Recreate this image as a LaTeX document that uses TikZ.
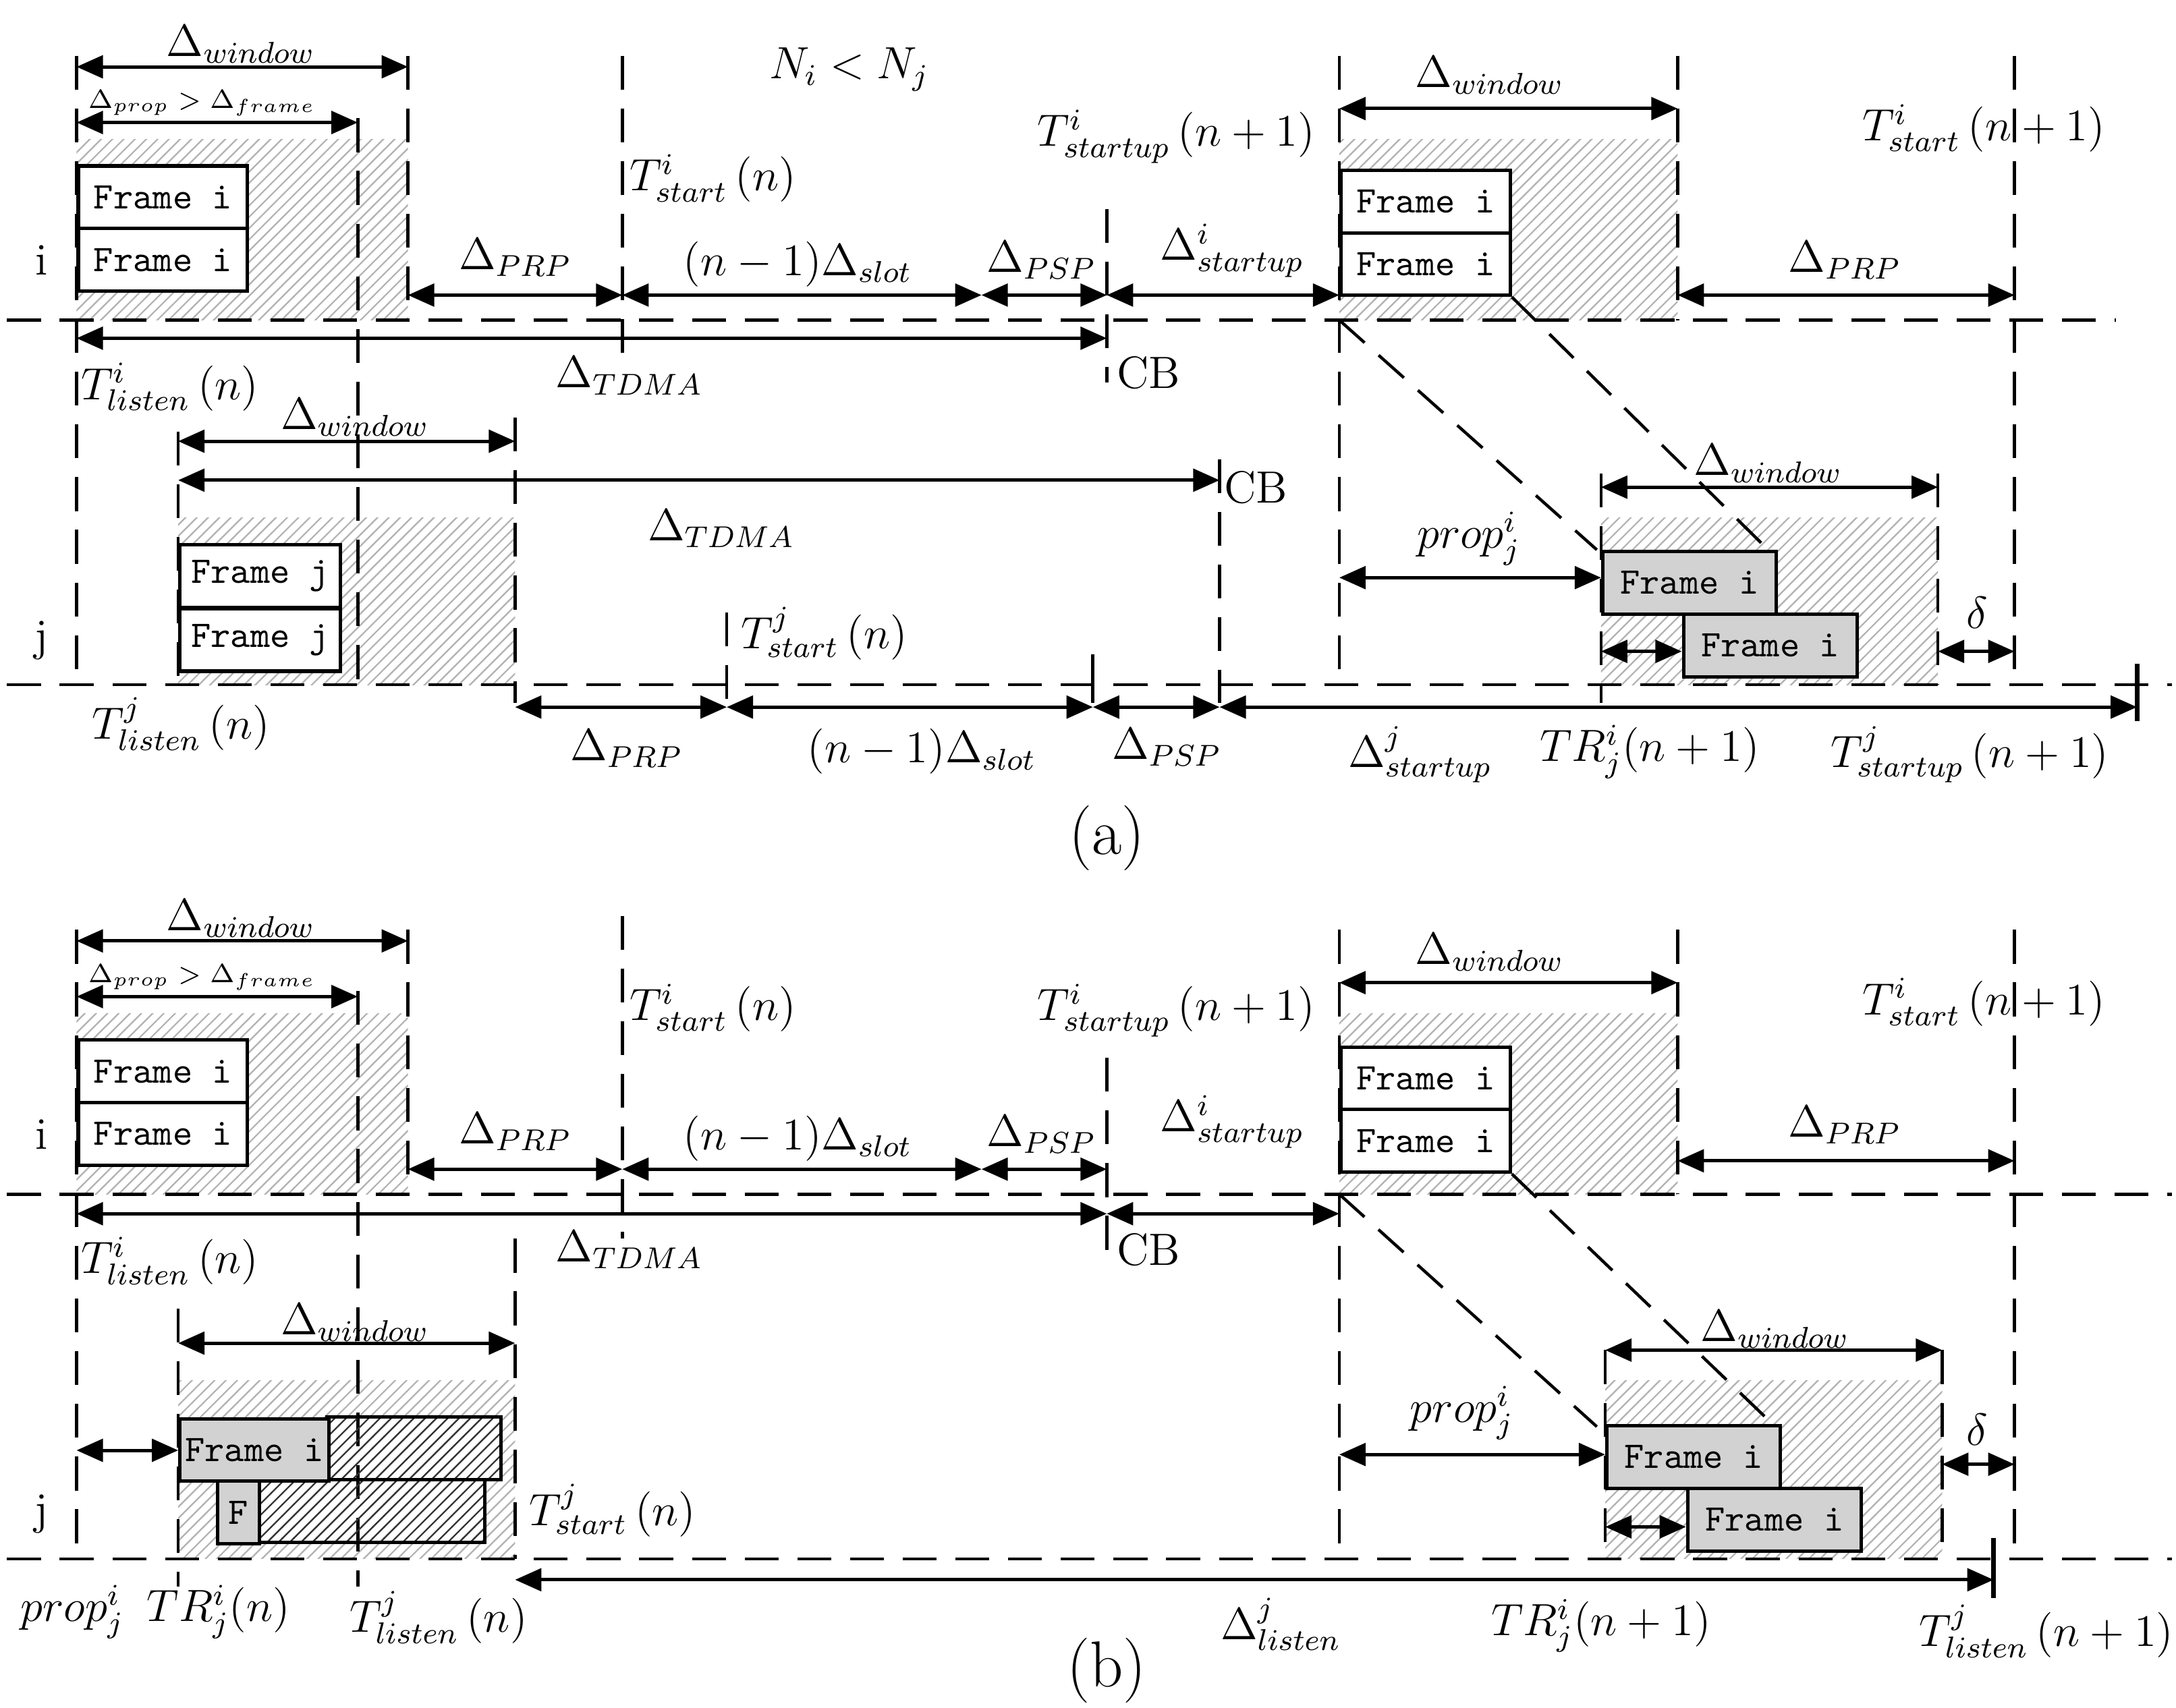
\documentclass[tikz,border=0pt]{standalone}
\usetikzlibrary{arrows.meta,patterns}
\begin{document}
\begin{tikzpicture}[x=0.013cm,y=-0.013cm,
  dl/.style={dashed,dash pattern=on 9pt off 5pt,line width=0.8pt},
  dim/.style={{Triangle[length=7pt,width=6pt]}-{Triangle[length=7pt,width=6pt]},line width=0.9pt},
  hatch/.style={pattern={north east lines},pattern color=gray!60},
  fr/.style={draw,line width=0.9pt,fill=white,font=\ttfamily,anchor=north west,inner sep=0,minimum width=1.58cm,minimum height=0.585cm},
  gfr/.style={fr,fill=gray!35},
  lb/.style={font=\large},
  sm/.style={font=\scriptsize}]
\useasboundingbox (0,0) rectangle (1563,1227);

%================ panel (a) ================
\fill[hatch] (55,100) rectangle (293,230);
\fill[hatch] (962,100) rectangle (1205,230);
\fill[hatch] (128,372) rectangle (370,492);
\fill[hatch] (1150,372) rectangle (1392,492);
% axes
\draw[dl] (5,230) -- (1520,230);
\draw[dl] (5,492) -- (1560,492);
\draw[line width=1.2pt] (1535,477) -- (1535,518);
% verticals
\foreach \x/\a/\b in {55/40/492,293/40/230,257/85/492,447/40/260,795/150/275,962/40/492,1205/40/230,1447/40/492,
  128/310/492,370/300/505,522/440/505,876/330/505,1150/340/505,1392/340/492}
  \draw[dl] (\x,\a) -- (\x,\b);
\draw[line width=0.8pt] (785,470) -- (785,505);
% frames
\node[fr] (fa1) at (55,118) {Frame i};
\node[fr] (fa2) at (55,163) {Frame i};
\node[fr] (fa3) at (962,121) {Frame i};
\node[fr] (fa4) at (962,166) {Frame i};
\node[fr,minimum width=1.5cm] (fa5) at (128,390) {Frame j};
\node[fr,minimum width=1.5cm] (fa6) at (128,436) {Frame j};
\draw[dl] (962,230) -- (1147,395);
\draw[dl] (fa4.south east) -- (1265,390);
\node[gfr,minimum width=1.62cm] (fa7) at (1150,395) {Frame i};
\node[gfr,minimum width=1.62cm] (fa8) at (1208,440) {Frame i};
% labels i
\node[lb] (ia) at (30,187) {i};
\node[lb] (ja) at (30,460) {j};
\draw[dim] (55,48) -- (293,48);   \node[lb] (wa1) at (173,32) {$\Delta_{window}$};
\draw[dim] (55,88) -- (257,88);   \node[sm] (pa1) at (145,74) {$\Delta_{prop}>\Delta_{frame}$};
\draw[dim] (293,212) -- (447,212); \node[lb] (ra1) at (370,185) {$\Delta_{PRP}$};
\draw[dim] (447,212) -- (705,212); \node[lb] (sa1) at (573,190) {$(n-1)\Delta_{slot}$};
\draw[dim] (705,212) -- (795,212); \node[lb] (qa1) at (748,187) {$\Delta_{PSP}$};
\draw[dim] (795,212) -- (962,212); \node[lb] (ua1) at (885,180) {$\Delta^{i}_{startup}$};
\node[lb] (na) at (610,50) {$N_i<N_j$};
\node[lb] (tsa) at (512,128) {$T^{i}_{start}\,(n)$};
\node[lb] (tua) at (845,98) {$T^{i}_{startup}\,(n+1)$};
\draw[dim] (55,243) -- (795,243); \node[lb] (da1) at (452,270) {$\Delta_{TDMA}$};
\node[lb] (cba1) at (825,268) {CB};
\node[lb] (tla) at (122,278) {$T^{i}_{listen}\,(n)$};
\draw[dim] (962,78) -- (1205,78); \node[lb] (wa2) at (1070,54) {$\Delta_{window}$};
\node[lb] (tsa2) at (1425,92) {$T^{i}_{start}\,(n+1)$};
\draw[dim] (1205,212) -- (1447,212); \node[lb] (ra2) at (1325,187) {$\Delta_{PRP}$};
% j part
\draw[dim] (128,317) -- (370,317); \node[lb] (wa3) at (255,300) {$\Delta_{window}$};
\draw[dim] (128,345) -- (876,345); \node[lb] (da2) at (518,380) {$\Delta_{TDMA}$};
\node[lb] (cba2) at (902,350) {CB};
\node[lb] (tsja) at (592,455) {$T^{j}_{start}\,(n)$};
\node[lb] (tlja) at (130,520) {$T^{j}_{listen}\,(n)$};
\draw[dim] (370,508) -- (522,508); \node[lb] (ra3) at (450,538) {$\Delta_{PRP}$};
\draw[dim] (522,508) -- (785,508); \node[lb] (sa2) at (662,540) {$(n-1)\Delta_{slot}$};
\draw[dim] (785,508) -- (876,508); \node[lb] (qa2) at (838,537) {$\Delta_{PSP}$};
\draw[dim] (876,508) -- (1535,508);
\node[lb] (ua2) at (1020,542) {$\Delta^{j}_{startup}$};
\node[lb] (tra) at (1185,540) {$TR^{i}_{j}(n+1)$};
\node[lb] (tuja) at (1415,542) {$T^{j}_{startup}\,(n+1)$};
\draw[dim] (1150,350) -- (1392,350); \node[lb] (wa4) at (1270,333) {$\Delta_{window}$};
\draw[dim] (962,415) -- (1150,415); \node[lb] (pra) at (1055,387) {$prop^{i}_{j}$};
\draw[dim] (1150,468) -- (1208,468);
\draw[dim] (1392,468) -- (1447,468); \node[lb] (dea) at (1420,440) {$\delta$};
\node[font=\LARGE] (capa) at (795,602) {(a)};

%================ panel (b) ================
\fill[hatch] (55,728) rectangle (293,858);
\fill[hatch] (962,728) rectangle (1205,858);
\fill[hatch] (128,992) rectangle (370,1120);
\fill[hatch] (1153,992) rectangle (1395,1120);
\draw[dl] (5,858) -- (1560,858);
\draw[dl] (5,1120) -- (1560,1120);
\draw[line width=1.2pt] (1432,1105) -- (1432,1148);
\foreach \x/\a/\b in {55/668/1120,293/668/858,257/712/1140,447/658/890,795/760/905,962/668/1120,1205/668/858,1447/668/1120,
  128/940/1140,370/890/1120,1153/970/1120,1395/970/1120}
  \draw[dl] (\x,\a) -- (\x,\b);
\node[fr] (fb1) at (55,746) {Frame i};
\node[fr] (fb2) at (55,791) {Frame i};
\node[fr] (fb3) at (962,751) {Frame i};
\node[fr] (fb4) at (962,796) {Frame i};
\draw[dl] (962,858) -- (1147,1025);
\draw[dl] (fb4.south east) -- (1270,1020);
\node[gfr,minimum width=1.62cm] (fb7) at (1153,1023) {Frame i};
\node[gfr,minimum width=1.62cm] (fb8) at (1211,1068) {Frame i};
% collided frames
\draw[line width=0.9pt,pattern={north east lines},pattern color=black!80] (235,1018) rectangle (360,1063);
\draw[line width=0.9pt,pattern={north east lines},pattern color=black!80] (185,1063) rectangle (348,1108);
\node[gfr,minimum width=1.39cm] (fb5) at (128,1018) {Frame i};
\node[gfr,minimum width=0.39cm] (fb6) at (155,1063) {F};
\node[lb] (ib) at (30,815) {i};
\node[lb] (jb) at (30,1088) {j};
\draw[dim] (55,676) -- (293,676);   \node[lb] (wb1) at (173,660) {$\Delta_{window}$};
\draw[dim] (55,716) -- (257,716);   \node[sm] (pb1) at (145,702) {$\Delta_{prop}>\Delta_{frame}$};
\draw[dim] (293,840) -- (447,840); \node[lb] (rb1) at (370,813) {$\Delta_{PRP}$};
\draw[dim] (447,840) -- (705,840); \node[lb] (sb1) at (573,818) {$(n-1)\Delta_{slot}$};
\draw[dim] (705,840) -- (795,840); \node[lb] (qb1) at (748,815) {$\Delta_{PSP}$};
\node[lb] (ub1) at (885,806) {$\Delta^{i}_{startup}$};
\node[lb] (tsb) at (512,724) {$T^{i}_{start}\,(n)$};
\node[lb] (tub) at (845,726) {$T^{i}_{startup}\,(n+1)$};
\draw[dim] (55,872) -- (795,872); \node[lb] (db1) at (452,898) {$\Delta_{TDMA}$};
\draw[dim] (795,872) -- (962,872);
\node[lb] (cbb1) at (825,898) {CB};
\node[lb] (tlb) at (122,906) {$T^{i}_{listen}\,(n)$};
\draw[dim] (962,706) -- (1205,706); \node[lb] (wb2) at (1070,684) {$\Delta_{window}$};
\node[lb] (tsb2) at (1425,720) {$T^{i}_{start}\,(n+1)$};
\draw[dim] (1205,834) -- (1447,834); \node[lb] (rb2) at (1325,808) {$\Delta_{PRP}$};
\draw[dim] (128,965) -- (370,965); \node[lb] (wb3) at (255,950) {$\Delta_{window}$};
\draw[dim] (55,1042) -- (128,1042);
\node[lb] (tsjb) at (440,1085) {$T^{j}_{start}\,(n)$};
\node[lb] (prb1) at (52,1158) {$prop^{i}_{j}$};
\node[lb] (trb1) at (157,1158) {$TR^{i}_{j}(n)$};
\node[lb] (tljb) at (315,1162) {$T^{j}_{listen}\,(n)$};
\draw[dim] (370,1135) -- (1432,1135);
\node[lb] (lib) at (920,1167) {$\Delta^{j}_{listen}$};
\node[lb] (trb2) at (1150,1168) {$TR^{i}_{j}(n+1)$};
\node[lb] (tljb2) at (1470,1172) {$T^{j}_{listen}\,(n+1)$};
\draw[dim] (1153,970) -- (1395,970); \node[lb] (wb4) at (1275,955) {$\Delta_{window}$};
\draw[dim] (962,1045) -- (1153,1045); \node[lb] (prb2) at (1050,1015) {$prop^{i}_{j}$};
\draw[dim] (1153,1097) -- (1211,1097);
\draw[dim] (1395,1052) -- (1447,1052); \node[lb] (deb) at (1420,1027) {$\delta$};
\node[font=\LARGE] (capb) at (795,1200) {(b)};
\end{tikzpicture}
\end{document}
